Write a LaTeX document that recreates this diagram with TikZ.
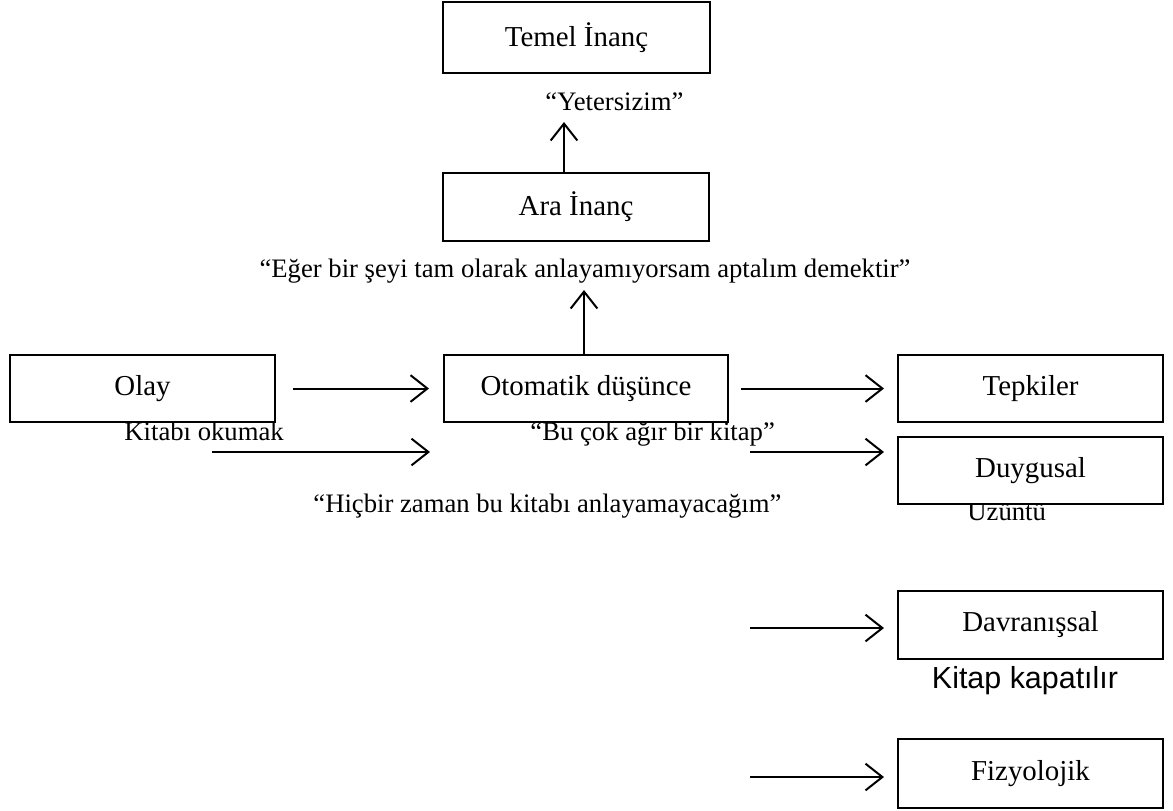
\documentclass[tikz,border=0pt]{standalone}
\usepackage{fontspec}
\setmainfont{Liberation Serif}
\newfontfamily\arialfont{Liberation Sans}
\usetikzlibrary{arrows.meta}
\begin{document}
\begin{tikzpicture}[x=0.45pt,y=-0.45pt,
  box/.style={draw, line width=0.9pt, fill=white, inner sep=0pt, font=\fontsize{13}{15}\selectfont},
  lbl/.style={inner sep=0pt, font=\fontsize{12}{14}\selectfont},
  arr/.style={line width=0.9pt, -{Straight Barb[length=7.6pt,width=12pt,line width=0.9pt]}}]
\useasboundingbox (0,0) rectangle (1173,810);
% free texts
\node[lbl, anchor=base west] (yet) at (545,110) {“Yetersizim”};
\node[lbl, anchor=base] (eger) at (585,277) {“Eğer bir şeyi tam olarak anlayamıyorsam aptalım demektir”};
\node[lbl, anchor=base west] (kit) at (124,440) {Kitabı okumak};
\node[lbl, anchor=base west] (bu) at (530,440) {“Bu çok ağır bir kitap”};
\node[lbl, anchor=base west] (hic) at (313,512) {“Hiçbir zaman bu kitabı anlayamayacağım”};
\node[lbl, anchor=base west] (uzu) at (967,520) {Üzüntü};
\node[lbl, anchor=base, font=\arialfont\fontsize{13.7}{16}\selectfont] (kk) at (1025,688) {Kitap kapatılır};
% boxes
\node[box, minimum width=120.15pt, minimum height=31.95pt] (temel) at (576.5,37.5) {Temel İnanç};
\node[box, minimum width=119.7pt, minimum height=30.6pt] (ara) at (576,207) {Ara İnanç};
\node[box, minimum width=119.25pt, minimum height=30.15pt] (olay) at (142.5,388.5) {Olay};
\node[box, minimum width=127.8pt, minimum height=30.15pt] (oto) at (586,388.5) {Otomatik düşünce};
\node[box, minimum width=119.25pt, minimum height=30.15pt] (tepki) at (1030.5,388.5) {Tepkiler};
\node[box, minimum width=119.25pt, minimum height=30.15pt] (duyg) at (1030.5,470.5) {Duygusal};
\node[box, minimum width=119.25pt, minimum height=30.6pt] (davr) at (1030.5,625) {Davranışsal};
\node[box, minimum width=119.25pt, minimum height=31.05pt] (fizy) at (1030.5,773.5) {Fizyolojik};
% connectors
\coordinate (yt) at (564,122);
\draw[arr] (ara.north -| yt) -- (yt);
\coordinate (et) at (584,290);
\draw[arr] (oto.north -| et) -- (et);
\draw[arr, shorten <=7.65pt, shorten >=6.3pt] (olay.east) -- (oto.west);
\draw[arr, shorten <=5.4pt, shorten >=5.85pt] (oto.east) -- (tepki.west);
\coordinate (r1s) at (212,452);
\coordinate (r1e) at (430,452);
\draw[arr] (r1s) -- (r1e);
\coordinate (r2s) at (750,452);
\draw[arr, shorten >=5.85pt] (r2s) -- (r2s -| duyg.west);
\coordinate (r3s) at (750,628);
\draw[arr, shorten >=5.85pt] (r3s) -- (r3s -| davr.west);
\coordinate (r4s) at (750,777);
\draw[arr, shorten >=5.85pt] (r4s) -- (r4s -| fizy.west);
\end{tikzpicture}
\end{document}
